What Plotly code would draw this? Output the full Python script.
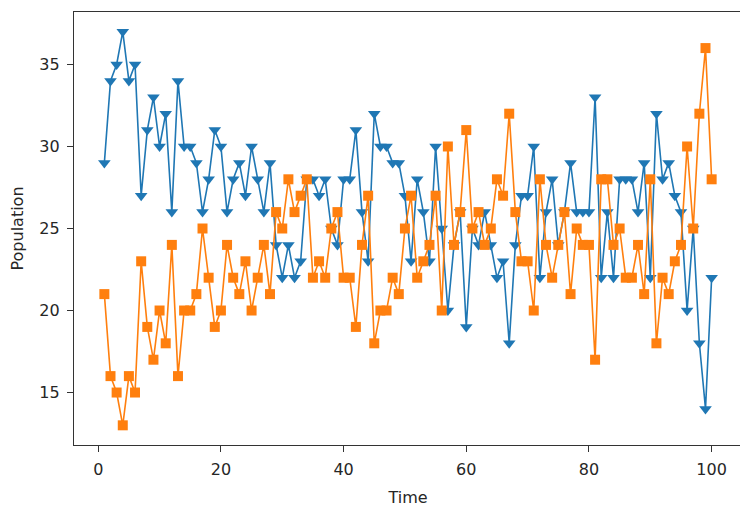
import plotly.graph_objects as go

# Time steps and the two populations
time = list(range(1, 101))

pop_a = [29, 34, 35, 37, 34, 35, 27, 31, 33, 30,
         32, 26, 34, 30, 30, 29, 26, 28, 31, 30,
         26, 28, 29, 27, 30, 28, 26, 29, 24, 22,
         24, 22, 23, 28, 28, 27, 28, 25, 24, 28,
         28, 31, 26, 23, 32, 30, 30, 29, 29, 27,
         23, 28, 26, 23, 30, 25, 20, 24, 26, 19,
         25, 24, 26, 24, 22, 23, 18, 24, 27, 27,
         30, 22, 26, 28, 24, 26, 29, 26, 26, 26,
         33, 22, 26, 22, 28, 28, 28, 26, 29, 22,
         32, 28, 29, 27, 26, 20, 25, 18, 14, 22]

pop_b = [21, 16, 15, 13, 16, 15, 23, 19, 17, 20,
         18, 24, 16, 20, 20, 21, 25, 22, 19, 20,
         24, 22, 21, 23, 20, 22, 24, 21, 26, 25,
         28, 26, 27, 28, 22, 23, 22, 25, 26, 22,
         22, 19, 24, 27, 18, 20, 20, 22, 21, 25,
         27, 22, 23, 24, 27, 20, 30, 24, 26, 31,
         25, 26, 24, 25, 28, 27, 32, 26, 23, 23,
         20, 28, 24, 22, 24, 26, 21, 25, 24, 24,
         17, 28, 28, 24, 25, 22, 22, 24, 21, 28,
         18, 22, 21, 23, 24, 30, 25, 32, 36, 28]

BLUE = "#1f77b4"
ORANGE = "#ff7f0e"
TEXT = "#262626"

fig = go.Figure()
fig.add_trace(go.Scatter(
    x=time, y=pop_a, mode="lines+markers",
    line=dict(color=BLUE, width=1.6),
    marker=dict(symbol="triangle-down", size=11, color=BLUE),
))
fig.add_trace(go.Scatter(
    x=time, y=pop_b, mode="lines+markers",
    line=dict(color=ORANGE, width=1.6),
    marker=dict(symbol="square", size=10, color=ORANGE),
))

axis_style = dict(
    showgrid=False, zeroline=False, automargin=False,
    showline=True, linecolor="#333333", linewidth=1.2, mirror=True,
    ticks="outside", ticklen=6, tickcolor="#333333",
    ticklabelstandoff=4,
    tickfont=dict(family="DejaVu Sans", size=16, color=TEXT),
)

# the page body adds an 8px offset, so margins are trimmed to line the box up
fig.update_layout(
    width=748, height=513,
    margin=dict(l=66, r=14, t=4, b=76),
    plot_bgcolor="white", paper_bgcolor="white",
    showlegend=False,
    font=dict(family="DejaVu Sans", color=TEXT),
    xaxis=dict(range=[-3.95, 104.95], tickvals=[0, 20, 40, 60, 80, 100],
               title=dict(text="Time", font=dict(size=16), standoff=13), **axis_style),
    yaxis=dict(range=[11.8, 38.2], tickvals=[15, 20, 25, 30, 35],
               title=dict(text="Population", font=dict(size=16), standoff=13), **axis_style),
)

fig.write_html("out.html")
